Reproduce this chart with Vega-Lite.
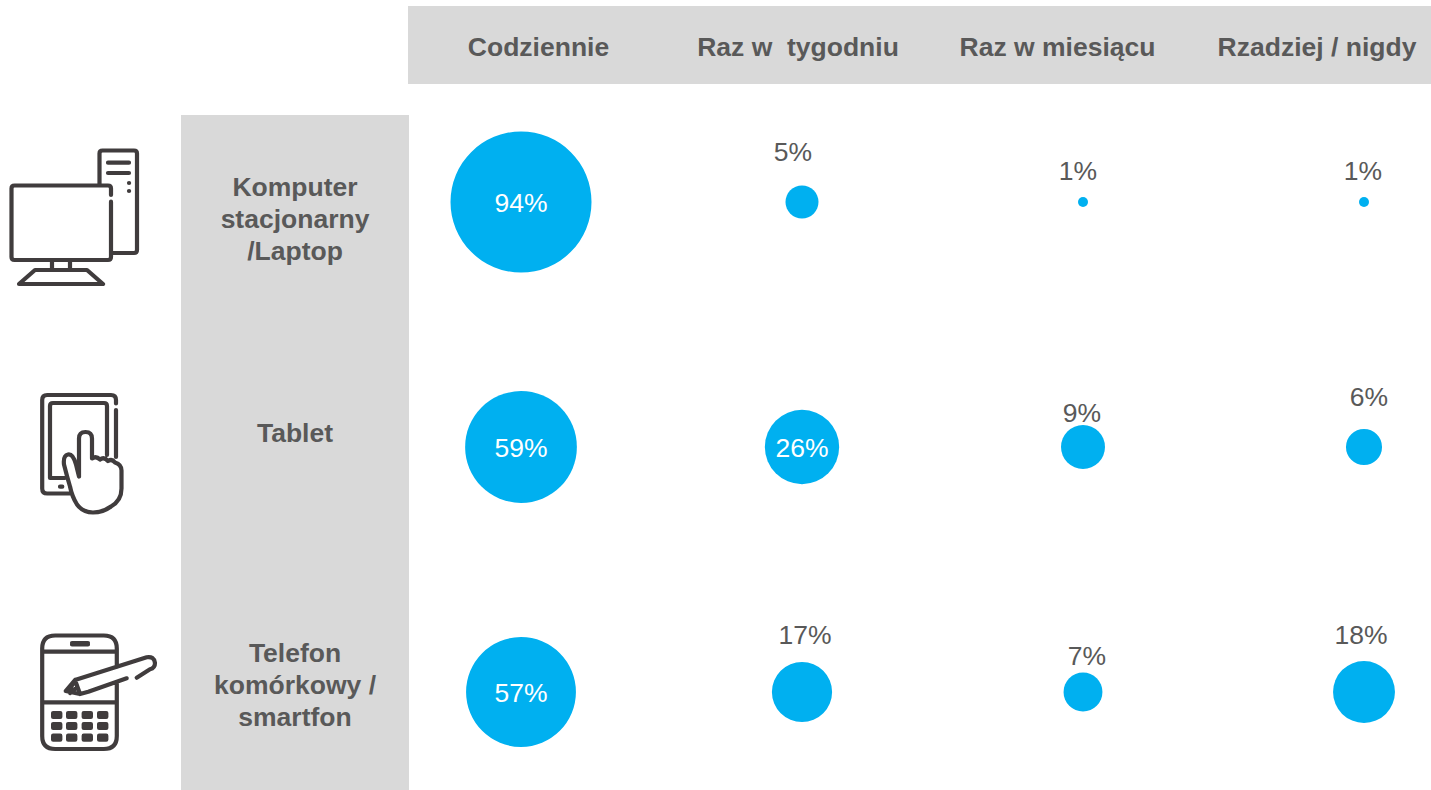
{
"$schema":"https://vega.github.io/schema/vega-lite/v6.json",
"width":1431,"height":790,"padding":0,
"autosize":{"type":"fit","contains":"padding"},
"background":"white",
"view":{"stroke":null},
"config":{"text":{"font":"Liberation Sans","fontSize":26.5},"axis":{"domain":false}},
"datasets":{
"cells":[
{"device":"Komputer stacjonarny /Laptop","freq":"Codziennie","value":94},
{"device":"Komputer stacjonarny /Laptop","freq":"Raz w  tygodniu","value":5},
{"device":"Komputer stacjonarny /Laptop","freq":"Raz w miesiącu","value":1},
{"device":"Komputer stacjonarny /Laptop","freq":"Rzadziej / nigdy","value":1},
{"device":"Tablet","freq":"Codziennie","value":59},
{"device":"Tablet","freq":"Raz w  tygodniu","value":26},
{"device":"Tablet","freq":"Raz w miesiącu","value":9},
{"device":"Tablet","freq":"Rzadziej / nigdy","value":6},
{"device":"Telefon komórkowy / smartfon","freq":"Codziennie","value":57},
{"device":"Telefon komórkowy / smartfon","freq":"Raz w  tygodniu","value":17},
{"device":"Telefon komórkowy / smartfon","freq":"Raz w miesiącu","value":7},
{"device":"Telefon komórkowy / smartfon","freq":"Rzadziej / nigdy","value":18}
],
"devices":[
{"device":"Komputer stacjonarny /Laptop","label":"Komputer\nstacjonarny\n/Laptop","slot":"icons"},
{"device":"Tablet","label":"Tablet","slot":"icons"},
{"device":"Telefon komórkowy / smartfon","label":"Telefon\nkomórkowy /\nsmartfon","slot":"icons"}
],
"freqs":[{"freq":"Codziennie"},{"freq":"Raz w \u00a0tygodniu"},{"freq":"Raz w miesiącu"},{"freq":"Rzadziej / nigdy"}],
"panels":[{"panel":"header"}]
},
"layer":[
{"data":{"name":"panels"},"mark":{"type":"rect","color":"#D9D9D9"},
 "encoding":{
 "x":{"field":"panel","type":"nominal","axis":null,"scale":{"type":"band","domain":["header"],"range":[408,1431],"paddingInner":0,"paddingOuter":0}},
 "y":{"field":"panel","type":"nominal","axis":null,"scale":{"type":"band","domain":["header"],"range":[6,84],"paddingInner":0,"paddingOuter":0}}}},
{"data":{"name":"panels"},"mark":{"type":"rect","color":"#D9D9D9"},
 "encoding":{
 "x":{"field":"panel","type":"nominal","axis":null,"scale":{"type":"band","domain":["header"],"range":[181,409],"paddingInner":0,"paddingOuter":0}},
 "y":{"field":"panel","type":"nominal","axis":null,"scale":{"type":"band","domain":["header"],"range":[115,790],"paddingInner":0,"paddingOuter":0}}}},
{"data":{"name":"freqs"},"mark":{"type":"text","fontWeight":"bold","color":"#595959","fontSize":26.5,"font":"Liberation Sans","baseline":"middle","align":"center"},
 "encoding":{
 "x":{"field":"freq","type":"nominal","axis":null,"sort":null,"scale":{"type":"point","domain":["Codziennie","Raz w \u00a0tygodniu","Raz w miesiącu","Rzadziej / nigdy"],"range":[538.5,1317],"padding":0}},
 "text":{"field":"freq"},
 "y":{"datum":"h","type":"nominal","axis":null,"scale":{"type":"point","domain":["h"],"range":[47.5,47.5],"padding":0}}}},
{"data":{"name":"devices"},
 "encoding":{
 "x":{"field":"slot","type":"nominal","axis":null,"scale":{"type":"point","domain":["icons"],"range":[295,295],"padding":0}},
 "y":{"field":"device","type":"nominal","axis":null,"scale":{"type":"point","domain":["Komputer stacjonarny /Laptop","Tablet","Telefon komórkowy / smartfon"],"range":[188,654],"padding":0}},
 "text":{"field":"label"}},
 "layer":[
 {"transform":[{"filter":"datum.device!='Tablet'"}],"mark":{"type":"text","fontWeight":"bold","color":"#595959","fontSize":26.5,"font":"Liberation Sans","baseline":"middle","align":"center","lineBreak":"\n","lineHeight":32}},
 {"transform":[{"filter":"datum.device=='Tablet'"}],"mark":{"type":"text","fontWeight":"bold","color":"#595959","fontSize":26.5,"font":"Liberation Sans","baseline":"middle","align":"center","dy":13}}
 ]},
{"data":{"name":"devices"},"mark":{"type":"point","filled":false,"stroke":"#403C3D","strokeWidth":4.2,"strokeCap":"round","strokeJoin":"round","opacity":1,"size":4},
 "encoding":{
 "x":{"field":"slot","type":"nominal","axis":null,"scale":{"type":"point","domain":["icons"],"range":[75,75],"padding":0}},
 "y":{"field":"device","type":"nominal","axis":null,"scale":{"type":"point","domain":["Komputer stacjonarny /Laptop","Tablet","Telefon komórkowy / smartfon"],"range":[217,692],"padding":0}},
 "shape":{"field":"device","type":"nominal","legend":null,"scale":{"domain":["Komputer stacjonarny /Laptop","Tablet","Telefon komórkowy / smartfon"],"range":[
 "M36 -15.3V40Q36 43 33 43H-60.5Q-63.5 43 -63.5 40V-28.5Q-63.5 -31.5 -60.5 -31.5H33Q36 -31.5 36 -28.5V-22M-23 43V53M-5 43V53M-40 53H12L28 67H-56ZM24.5 -33V-63.5Q24.5 -66.5 27.5 -66.5H59Q62 -66.5 62 -63.5V33Q62 36 59 36H38M33 -54.3H54M33 -44H54M54 -34H54.1M54 -26H54.1",
 "M41 2.5V-44.5M41 -51V-54.5Q41 -59.5 36 -59.5H-27.8Q-32.8 -59.5 -32.8 -54.5V34Q-32.8 39 -27.8 39H-5M32 0.5V-48.5Q32 -51.5 29 -51.5H-22Q-25 -51.5 -25 -48.5V23.5H-10M-15 32.2H-12.7M4 22V-16Q4 -22.5 10.5 -22.5Q17 -22.5 17 -16V4Q21 1 25 5Q29 2 33 6.5Q37 4 40 8Q46.5 10 46.5 16V34Q46.5 46 36 52Q28 58 18 58Q8 58 2 50Q-3 42 -5 32Q-8 22 -11 10Q-12 1 -7 0Q-2 -1 1 10L4 22",
 "M41.8 -25V-43.5Q41.8 -56.5 28.8 -56.5H-19.8Q-32.8 -56.5 -32.8 -43.5V44Q-32.8 57 -19.8 57H28.8Q41.8 57 41.8 44V-10M-32.8 -40.3H41.8M-32.8 10.3H41.8M-3 -49H13M-3 -47.6H13M0 -12L71.7 -34.7Q79 -36 80 -29Q80 -24 75 -22.7L61.7 -14.3M51.7 -13.7L13.3 -0.3L5 2M-9.3 -1L0 -12L5 2ZM-7 -1L-2 -8M-5 1L0 -3M-21.9 21H-14.7V25H-21.9ZM-21.9 23H-14.7M-6.9 21H0.3V25H-6.9ZM-6.9 23H0.3M8.7 21H15.9V25H8.7ZM8.7 23H15.9M24.1 21H31.3V25H24.1ZM24.1 23H31.3M-21.9 32H-14.7V36H-21.9ZM-21.9 34H-14.7M-6.9 32H0.3V36H-6.9ZM-6.9 34H0.3M8.7 32H15.9V36H8.7ZM8.7 34H15.9M24.1 32H31.3V36H24.1ZM24.1 34H31.3M-21.9 43.7H-14.7V47.7H-21.9ZM-21.9 45.7H-14.7M-6.9 43.7H0.3V47.7H-6.9ZM-6.9 45.7H0.3M8.7 43.7H15.9V47.7H8.7ZM8.7 45.7H15.9M24.1 43.7H31.3V47.7H24.1ZM24.1 45.7H31.3"
 ]}}}},
{"data":{"name":"cells"},
 "transform":[{"calculate":"datum.value+'%'","as":"txt"}],
 "encoding":{
 "x":{"field":"freq","type":"nominal","axis":null,"scale":{"type":"point","domain":["Codziennie","Raz w  tygodniu","Raz w miesiącu","Rzadziej / nigdy"],"range":[521,1364],"padding":0}},
 "y":{"field":"device","type":"nominal","axis":null,"scale":{"type":"point","domain":["Komputer stacjonarny /Laptop","Tablet","Telefon komórkowy / smartfon"],"range":[202,692],"padding":0}}
 },
 "layer":[
 {"mark":{"type":"circle","color":"#00B0F0","opacity":1},
  "encoding":{"size":{"field":"value","type":"quantitative","legend":null,"scale":{"type":"linear","zero":false,"domain":[1,5,94],"range":[100,1089,19881]}}}},
 {"transform":[{"filter":"datum.value>=26"}],"mark":{"type":"text","color":"#FFFFFF","dy":2,"baseline":"middle","font":"Liberation Sans","fontSize":26.5},"encoding":{"text":{"field":"txt","type":"nominal"}}},
 {"transform":[{"filter":"datum.value==5"}],"mark":{"type":"text","color":"#595959","dx":-9,"dy":-49,"baseline":"middle","font":"Liberation Sans","fontSize":26.5},"encoding":{"text":{"field":"txt","type":"nominal"}}},
 {"transform":[{"filter":"datum.value==1&&datum.freq=='Raz w miesiącu'"}],"mark":{"type":"text","color":"#595959","dx":-5,"dy":-30,"baseline":"middle","font":"Liberation Sans","fontSize":26.5},"encoding":{"text":{"field":"txt","type":"nominal"}}},
 {"transform":[{"filter":"datum.value==1&&datum.freq=='Rzadziej / nigdy'"}],"mark":{"type":"text","color":"#595959","dx":-1,"dy":-30,"baseline":"middle","font":"Liberation Sans","fontSize":26.5},"encoding":{"text":{"field":"txt","type":"nominal"}}},
 {"transform":[{"filter":"datum.value==9"}],"mark":{"type":"text","color":"#595959","dx":-1,"dy":-33,"baseline":"middle","font":"Liberation Sans","fontSize":26.5},"encoding":{"text":{"field":"txt","type":"nominal"}}},
 {"transform":[{"filter":"datum.value==6"}],"mark":{"type":"text","color":"#595959","dx":5,"dy":-49,"baseline":"middle","font":"Liberation Sans","fontSize":26.5},"encoding":{"text":{"field":"txt","type":"nominal"}}},
 {"transform":[{"filter":"datum.value==17"}],"mark":{"type":"text","color":"#595959","dx":3,"dy":-56,"baseline":"middle","font":"Liberation Sans","fontSize":26.5},"encoding":{"text":{"field":"txt","type":"nominal"}}},
 {"transform":[{"filter":"datum.value==7"}],"mark":{"type":"text","color":"#595959","dx":4,"dy":-35,"baseline":"middle","font":"Liberation Sans","fontSize":26.5},"encoding":{"text":{"field":"txt","type":"nominal"}}},
 {"transform":[{"filter":"datum.value==18"}],"mark":{"type":"text","color":"#595959","dx":-3,"dy":-56,"baseline":"middle","font":"Liberation Sans","fontSize":26.5},"encoding":{"text":{"field":"txt","type":"nominal"}}}
 ]
}
],
"resolve":{"scale":{"x":"independent","y":"independent","shape":"independent","size":"independent"}}
}
